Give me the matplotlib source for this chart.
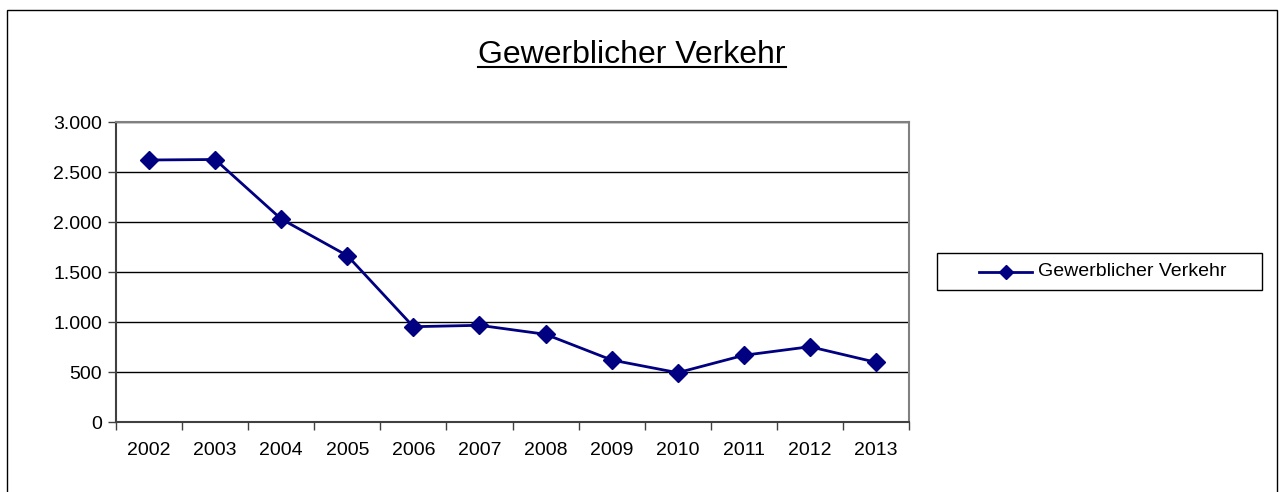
import matplotlib
matplotlib.use("Agg")
import matplotlib.pyplot as plt
from matplotlib.patches import Rectangle
from matplotlib.lines import Line2D
from matplotlib.ticker import FuncFormatter, FixedLocator

plt.rcParams['font.family'] = ['Liberation Sans', 'DejaVu Sans']

years = ['2002', '2003', '2004', '2005', '2006', '2007', '2008', '2009', '2010', '2011', '2012', '2013']
values = [2623, 2628, 2033, 1667, 956, 970, 880, 623, 496, 670, 756, 600]
series_name = 'Gewerblicher Verkehr'
title = 'Gewerblicher Verkehr'

fig = plt.figure(figsize=(12.79, 4.92), dpi=100)
W, H = 1279, 492
navy = '#000080'


def fx(px):
    return px / W


def fy(py):
    return 1 - py / H


# outer chart frame
fig.add_artist(Rectangle((fx(7), -0.05), fx(1277 - 7), (H - 10) / H + 0.05,
                         transform=fig.transFigure, fill=False,
                         edgecolor='black', linewidth=1.0))

ax = fig.add_axes([fx(116), fy(422.3), fx(909 - 116), 300 / H])
x = list(range(len(years)))
line, = ax.plot(x, values, color=navy, linewidth=2, marker='D',
                markersize=9.5, markerfacecolor=navy,
                markeredgecolor=navy, label=series_name)

ax.set_xlim(-0.5, len(years) - 0.5)
ax.set_ylim(0, 3000)
ax.set_yticks(range(0, 3001, 500))
ax.yaxis.set_major_formatter(FuncFormatter(lambda v, p: f'{int(v):,}'.replace(',', '.')))
ax.grid(axis='y', color='black', linewidth=1)
ax.set_axisbelow(True)

ax.set_xticks(x)
ax.set_xticklabels(years)
ax.xaxis.set_minor_locator(FixedLocator([i - 0.5 for i in range(len(years) + 1)]))
ax.tick_params(axis='x', which='major', length=0, pad=14, labelsize=14)
ax.tick_params(axis='x', which='minor', length=6, width=1, color='#404040')
ax.tick_params(axis='y', length=6, width=1, color='#404040', pad=4, labelsize=14)

for side in ['top', 'right']:
    ax.spines[side].set_color('#808080')
    ax.spines[side].set_linewidth(1.5)
for side in ['left', 'bottom']:
    ax.spines[side].set_color('#404040')
    ax.spines[side].set_linewidth(1.5)

# legend box with a sample of the series line
fig.add_artist(Rectangle((fx(937), fy(290)), fx(1262 - 937), (290 - 253) / H,
                         transform=fig.transFigure, fill=False,
                         edgecolor='black', linewidth=1.0))
fig.add_artist(Line2D([fx(979), fx(1005.5), fx(1032)], [fy(271.5)] * 3,
                      transform=fig.transFigure, color=navy, linewidth=2,
                      marker='D', markersize=7, markevery=[1],
                      markerfacecolor=navy, markeredgecolor=navy))
fig.text(fx(1038), fy(271.5), series_name, ha='left', va='center', fontsize=14)

t = fig.text(fx(632), fy(63), title, ha='center', va='baseline', fontsize=23)

fig.canvas.draw()
bb = t.get_window_extent()
fig.add_artist(Line2D([bb.x0 / W, bb.x1 / W], [fy(67)] * 2,
                      transform=fig.transFigure, color='black', linewidth=1.5))

fig.savefig('out.png', dpi=100, facecolor='white')
